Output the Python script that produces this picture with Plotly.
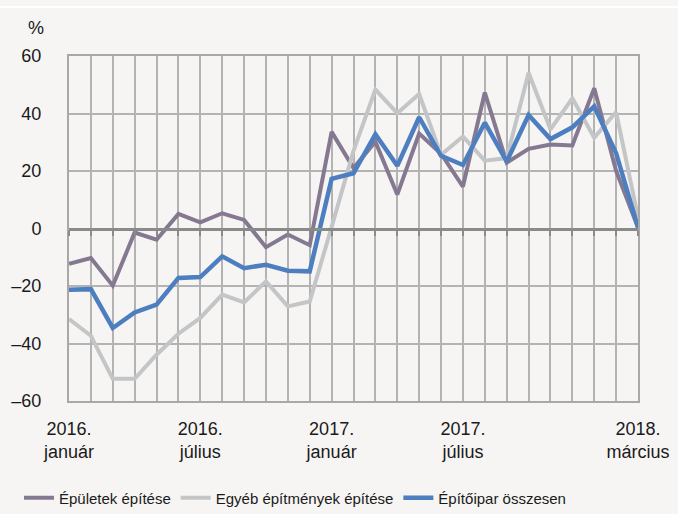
import plotly.graph_objects as go

# havi adatok, 2016. január - 2018. március
months = ["2016-01", "2016-02", "2016-03", "2016-04", "2016-05", "2016-06",
          "2016-07", "2016-08", "2016-09", "2016-10", "2016-11", "2016-12",
          "2017-01", "2017-02", "2017-03", "2017-04", "2017-05", "2017-06",
          "2017-07", "2017-08", "2017-09", "2017-10", "2017-11", "2017-12",
          "2018-01", "2018-02", "2018-03"]

epuletek = [-12.3, -10.3, -19.9, -1.4, -3.9, 5.1, 2.1, 5.3, 3.0, -6.5, -2.1, -5.8,
            33.6, 21.0, 30.2, 11.8, 33.0, 26.0, 14.6, 47.3, 22.9, 27.7, 29.2, 28.9,
            48.8, 20.0, 0.3]
egyeb = [-31.5, -37.3, -52.3, -52.3, -43.9, -36.6, -31.1, -23.0, -25.7, -18.4, -27.1, -25.4,
         0.5, 27.0, 48.3, 40.1, 46.8, 25.6, 32.0, 23.6, 24.5, 54.2, 34.5, 45.3,
         31.6, 40.5, 4.0]
osszesen = [-21.3, -21.1, -34.6, -29.2, -26.5, -17.2, -16.9, -9.7, -13.8, -12.6, -14.7, -14.9,
            17.3, 19.2, 32.8, 21.8, 38.7, 25.3, 22.1, 36.8, 23.3, 39.5, 31.1, 35.2,
            42.5, 26.2, 0.4]

month_labels = {"2016-01": "2016.<br>január", "2016-07": "2016.<br>július",
                "2017-01": "2017.<br>január", "2017-07": "2017.<br>július",
                "2018-03": "2018.<br>március"}
y_ticks = [-60, -40, -20, 0, 20, 40, 60]
y_ticktext = ["–60", "–40", "–20", "0", "20", "40", "60"]

x = list(range(len(months)))
x_ticktext = [month_labels.get(m, "") for m in months]

FONT = "Liberation Sans Narrow, Arial Narrow, Liberation Sans, Arial, sans-serif"
BG = "#f6f5f3"
GRID = "#b3b3b3"

fig = go.Figure()
fig.add_trace(go.Scatter(x=x, y=epuletek, name="Épületek építése", mode="lines",
                         line=dict(color="#857891", width=4)))
fig.add_trace(go.Scatter(x=x, y=egyeb, name="Egyéb építmények építése", mode="lines",
                         line=dict(color="#c3c5c7", width=4)))
# az összesen vonal a második x tengelyen van, az adja a nulla vonalat és a kis osztásokat
fig.add_trace(go.Scatter(x=x, y=osszesen, name="Építőipar összesen", mode="lines",
                         line=dict(color="#4d7fc0", width=4.5), xaxis="x2"))

fig.update_layout(
    width=678, height=514,
    margin=dict(l=69, r=40, t=56, b=113, autoexpand=False),
    paper_bgcolor=BG, plot_bgcolor=BG,
    font=dict(family=FONT, size=18, color="#1a1a1a"),
    showlegend=True,
    legend=dict(orientation="h", xref="container", yref="container",
                x=0.028, xanchor="left", y=0.031, yanchor="middle",
                font=dict(size=15), itemwidth=30, tracegroupgap=0,
                bgcolor="rgba(0,0,0,0)"),
    xaxis=dict(range=[0, 26], tickvals=x, ticktext=x_ticktext, showgrid=True,
               gridcolor=GRID, gridwidth=1.5, showline=True, linecolor="#a8a8a8",
               linewidth=2, mirror=True, ticks="", zeroline=False,
               ticklabelstandoff=10, tickfont=dict(size=18)),
    xaxis2=dict(range=[0, 26], tickvals=x, overlaying="x", anchor="free", position=0.5,
                showgrid=False, showticklabels=False, showline=True, linecolor="#8a8a8a",
                linewidth=3, ticks="outside", ticklen=5, tickwidth=2, tickcolor="#8a8a8a",
                zeroline=False),
    yaxis=dict(range=[-60, 60], tickvals=y_ticks, ticktext=y_ticktext, showgrid=True,
               gridcolor=GRID, gridwidth=1.5, showline=True, linecolor="#a8a8a8",
               linewidth=2, mirror=True, ticks="", zeroline=False,
               ticklabelstandoff=22, tickfont=dict(size=18)),
    annotations=[dict(text="%", xref="paper", yref="paper", x=-0.058, y=1.08,
                      xanchor="center", yanchor="middle", showarrow=False,
                      font=dict(size=18))],
    shapes=[dict(type="line", xref="paper", yref="paper", x0=-0.13, x1=1.08,
                 y0=1.142, y1=1.142, line=dict(color="white", width=2))],
)

# a böngésző alapértelmezett 8px-es margóját kivesszük
fig.write_html("out.html", config={"displayModeBar": False},
               post_script="document.body.style.margin='0';"
                           "document.body.style.background='" + BG + "';")
